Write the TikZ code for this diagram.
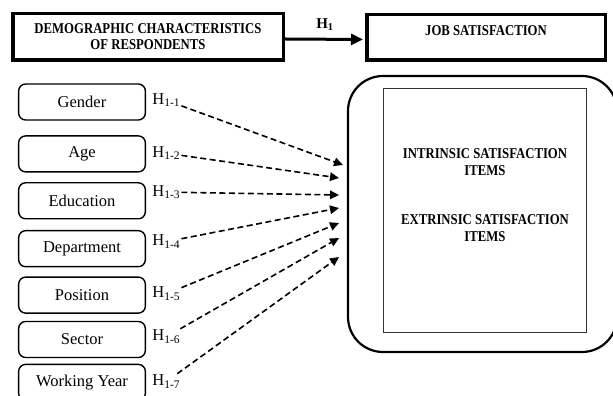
\documentclass[tikz,border=0pt]{standalone}
\usepackage{fontspec}
\setmainfont{Liberation Serif}
\newfontfamily\capsfont[FakeStretch=0.85]{Liberation Serif}
\usepackage{tikz}
\usetikzlibrary{arrows.meta}
\usetikzlibrary{positioning}

\begin{document}
\begin{tikzpicture}[-,>={Triangle[length=9pt,width=8.5pt]},x=1pt,y=1pt,node distance=10pt,semithick]
 \tikzstyle{header}=[draw, line width=3.5pt, align=center, font=\capsfont\bfseries\fontsize{15}{16}\selectfont]
 \tikzstyle{factor}=[draw, rounded corners=7pt, line width=1.4pt, minimum width=126.7pt, minimum height=36pt, font=\fontsize{16.5}{19}\selectfont]
 \tikzstyle{hyp}=[inner sep=1pt, font=\fontsize{16.5}{19}\selectfont]
 \tikzstyle{items}=[align=center, font=\capsfont\bfseries\fontsize{15}{17}\selectfont]
 \tikzstyle{link}=[->, dash pattern=on 6pt off 3.5pt, line width=1.6pt]
 \useasboundingbox (0,0) rectangle (613,396);
 % top row
 \node[header, minimum width=270.5pt, minimum height=46.5pt] (demo) at (148,359) {DEMOGRAPHIC CHARACTERISTICS\\OF RESPONDENTS};
 \node[header, minimum width=238.5pt, minimum height=45.5pt, text height=10pt, text depth=13pt] (job) at (486,358.5) {JOB SATISFACTION};
 % demographic factors
 \node[factor] (gender) at (82,294) {Gender};
 \node[factor] (age) [below=14.5pt of gender] {Age};
 \node[factor] (edu) [below=9.5pt of age] {Education};
 \node[factor] (dept) [below=10.5pt of edu] {Department};
 \node[factor] (pos) [below=9pt of dept] {Position};
 \node[factor] (sector) [below=7pt of pos] {Sector};
 \node[factor] (year) [below=5.5pt of sector] {Working Year};
 % hypotheses
 \node[hyp, right=5pt of gender.east, yshift=1.7pt] (h1) {H\textsubscript{1-1}};
 \node[hyp, right=5pt of age.east, yshift=0.7pt] (h2) {H\textsubscript{1-2}};
 \node[hyp, right=5pt of edu.east, yshift=8.7pt] (h3) {H\textsubscript{1-3}};
 \node[hyp, right=5pt of dept.east, yshift=7pt] (h4) {H\textsubscript{1-4}};
 \node[hyp, right=5pt of pos.east, yshift=1.2pt] (h5) {H\textsubscript{1-5}};
 \node[hyp, right=5pt of sector.east, yshift=2.7pt] (h6) {H\textsubscript{1-6}};
 \node[hyp, right=5pt of year.east, yshift=0.7pt] (h7) {H\textsubscript{1-7}};
 % job satisfaction items
 \node[draw, line width=2.2pt, rounded corners=35pt, minimum width=269pt, minimum height=276pt] (sat) at (482.5,182) {};
 \node[draw=black!80, line width=0.8pt, minimum width=203pt, minimum height=244pt] (itembox) at (485,185.5) {};
 \node[items] (intr) at (485,233.5) {INTRINSIC SATISFACTION\\ITEMS};
 \node[items] (extr) at (485,167.5) {EXTRINSIC SATISFACTION\\ITEMS};
 \coordinate (p1) at (343,231);
 \coordinate (p2) at (339,218);
 \coordinate (p3) at (339,201);
 \coordinate (p4) at (339,188);
 \coordinate (p5) at (339,173);
 \coordinate (p6) at (339,158);
 \coordinate (p7) at (339,139);
 \path
 ([yshift=-2pt]demo.east) edge [->, line width=3pt, >={Triangle[length=12pt,width=11pt]}, shorten >=2pt]
   node [above=4pt, font=\bfseries\fontsize{15}{18}\selectfont] (hmain) {H\textsubscript{1}} ([yshift=-2pt]job.west)
 (h1) edge [link] (p1)
 (h2) edge [link] (p2)
 (h3) edge [link] (p3)
 (h4) edge [link] (p4)
 (h5) edge [link] (p5)
 (h6) edge [link] (p6)
 (h7) edge [link] (p7);
\end{tikzpicture}
\end{document}
